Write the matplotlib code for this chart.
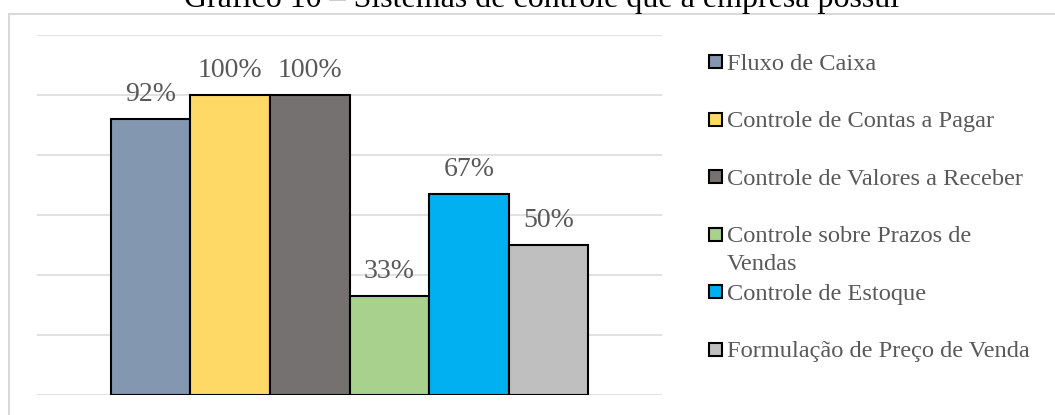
import matplotlib
matplotlib.use("Agg")
import matplotlib.pyplot as plt
from matplotlib.patches import Rectangle

title = "Gráfico 10 – Sistemas de controle que a empresa possui"
series_names = [
    "Fluxo de Caixa",
    "Controle de Contas a Pagar",
    "Controle de Valores a Receber",
    "Controle sobre Prazos de\nVendas",
    "Controle de Estoque",
    "Formulação de Preço de Venda",
]
values = [0.92, 1.00, 1.00, 0.33, 0.67, 0.50]
value_labels = ["92%", "100%", "100%", "33%", "67%", "50%"]
colors = ["#8497B0", "#FFD966", "#767171", "#A9D18E", "#00B0F0", "#BFBFBF"]

W, H = 1055, 415
plt.rcParams['font.family'] = ['Liberation Serif', 'DejaVu Serif']
fig = plt.figure(figsize=(W / 100, H / 100), dpi=100)

# chart frame
fig.patches.append(Rectangle((8.5 / W, -0.1), 1.2, (H - 14.5) / H + 0.1,
                             transform=fig.transFigure, fill=False,
                             edgecolor="#d9d9d9", linewidth=1.5, zorder=0))
# title (partly clipped at top, as in the source image)
fig.text(542 / W, 1 - 7.5 / H, title, ha="center", va="baseline",
         fontsize=23, color="black")

ax = fig.add_axes([37 / W, 20 / H, 625 / W, 360 / H])
x = list(range(len(values)))
bars = ax.bar(x, values, width=1.0, color=colors, edgecolor="black",
              linewidth=1.5, zorder=3)
ax.set_ylim(0, 1.2)
ax.set_xlim(-1.4226, 6.4226)
ax.set_yticks([0, 0.2, 0.4, 0.6, 0.8, 1.0, 1.2])
ax.yaxis.grid(True, color="#d9d9d9", linewidth=1.1, zorder=0)
ax.tick_params(left=False, bottom=False, labelleft=False, labelbottom=False)
for s in ax.spines.values():
    s.set_visible(False)
ax.patch.set_alpha(0)

for xi, v, lab in zip(x, values, value_labels):
    ax.annotate(lab, (xi, v), xytext=(0, 13), textcoords="offset points",
                ha="center", va="baseline", fontsize=20, color="#595959",
                zorder=4)

# legend drawn manually (Excel-style)
row0, step = 62, 57.4
for i, (name, c) in enumerate(zip(series_names, colors)):
    yc = row0 + i * step
    fig.patches.append(Rectangle((708.5 / W, 1 - (yc + 6.5) / H), 13 / W, 13 / H,
                                 transform=fig.transFigure, facecolor=c,
                                 edgecolor="black", linewidth=1.5))
    for k, line in enumerate(name.split("\n")):
        fig.text(727 / W, 1 - (yc + 8 + k * 28) / H, line, ha="left",
                 va="baseline", fontsize=17.6, color="#595959")

fig.savefig("out.png", dpi=100)
